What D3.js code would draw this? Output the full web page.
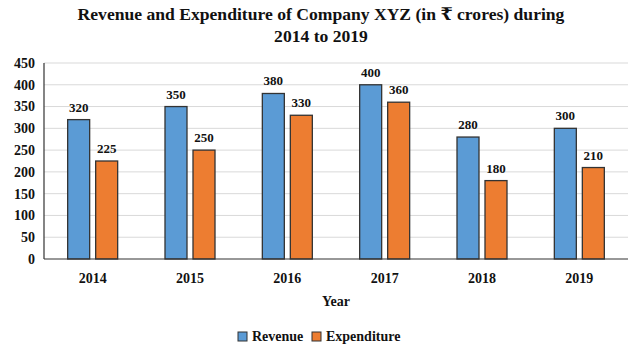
<!DOCTYPE html>
<html><head><meta charset="utf-8">
<script src="https://cdn.jsdelivr.net/npm/d3@7"></script>
<style>body{margin:0;background:#fff}svg{display:block}</style>
</head><body><svg id="c" width="639" height="350" font-family="'Liberation Serif', 'Times New Roman', Times, 'DejaVu Serif', serif" font-weight="bold"></svg>
<script>
const years = ["2014","2015","2016","2017","2018","2019"];
const revenue = [320,350,380,400,280,300];
const expenditure = [225,250,330,360,180,210];
const yTicks = [0,50,100,150,200,250,300,350,400,450];
const seriesNames = ["Revenue","Expenditure"];
const colors = ["#5B9BD5","#ED7D31"];
const titleLines = ["Revenue and Expenditure of Company XYZ (in ₹ crores) during","2014 to 2019"];

const svg = d3.select("#c");
const m = {l:44, r:628, t:63, b:259};
const x = d3.scaleBand().domain(years).range([m.l, m.r]);
const y = d3.scaleLinear().domain([0,450]).range([m.b, m.t]);
const ink = "#111";

svg.append("g").selectAll("text").data(titleLines).join("text")
  .attr("x",321).attr("y",(d,i)=>20+i*22).attr("text-anchor","middle").attr("fill",ink)
  .style("font-size","17.6px").text(d=>d);

svg.append("g").selectAll("line").data(yTicks.filter(d=>d>0)).join("line")
  .attr("x1",m.l).attr("x2",m.r).attr("y1",d=>y(d)).attr("y2",d=>y(d))
  .attr("stroke","#d9d9d9").attr("stroke-width",1);

svg.append("g").selectAll("text").data(yTicks).join("text")
  .attr("x",35).attr("y",d=>y(d)).attr("dy","0.35em").attr("text-anchor","end").attr("fill",ink)
  .style("font-size","14px").text(d=>d);

const bw = 22, gap = 6;
const series = [revenue, expenditure];
series.forEach((vals,si)=>{
  const g = svg.append("g");
  const off = si===0 ? -gap/2-bw : gap/2;
  g.selectAll("rect").data(vals).join("rect")
    .attr("x",(d,i)=>x(years[i])+x.bandwidth()/2+off)
    .attr("y",d=>y(d)).attr("width",bw).attr("height",d=>y(0)-y(d))
    .attr("fill",colors[si]).attr("stroke","#333").attr("stroke-width",1.3);
  g.selectAll("text").data(vals).join("text")
    .attr("x",(d,i)=>x(years[i])+x.bandwidth()/2+off+bw/2)
    .attr("y",d=>y(d)-8).attr("text-anchor","middle").attr("fill",ink)
    .style("font-size","13px").text(d=>d);
});

svg.append("line").attr("x1",m.l).attr("x2",m.l).attr("y1",m.t).attr("y2",m.b).attr("stroke","#333").attr("stroke-width",1.2);
svg.append("line").attr("x1",m.l).attr("x2",m.r).attr("y1",m.b).attr("y2",m.b).attr("stroke","#333").attr("stroke-width",1.2);

svg.append("g").selectAll("text").data(years).join("text")
  .attr("x",d=>x(d)+x.bandwidth()/2).attr("y",283).attr("text-anchor","middle").attr("fill",ink)
  .style("font-size","14px").text(d=>d);

svg.append("text").attr("x",336).attr("y",306).attr("text-anchor","middle").attr("fill",ink)
  .style("font-size","14px").text("Year");

const leg = svg.append("g");
const lx = [238, 312];
seriesNames.forEach((n,i)=>{
  leg.append("rect").attr("x",lx[i]).attr("y",332).attr("width",9).attr("height",9)
    .attr("fill",colors[i]).attr("stroke","#333").attr("stroke-width",1);
  leg.append("text").attr("x",lx[i]+14).attr("y",341).attr("fill",ink).style("font-size","14px").text(n);
});
</script></body></html>
